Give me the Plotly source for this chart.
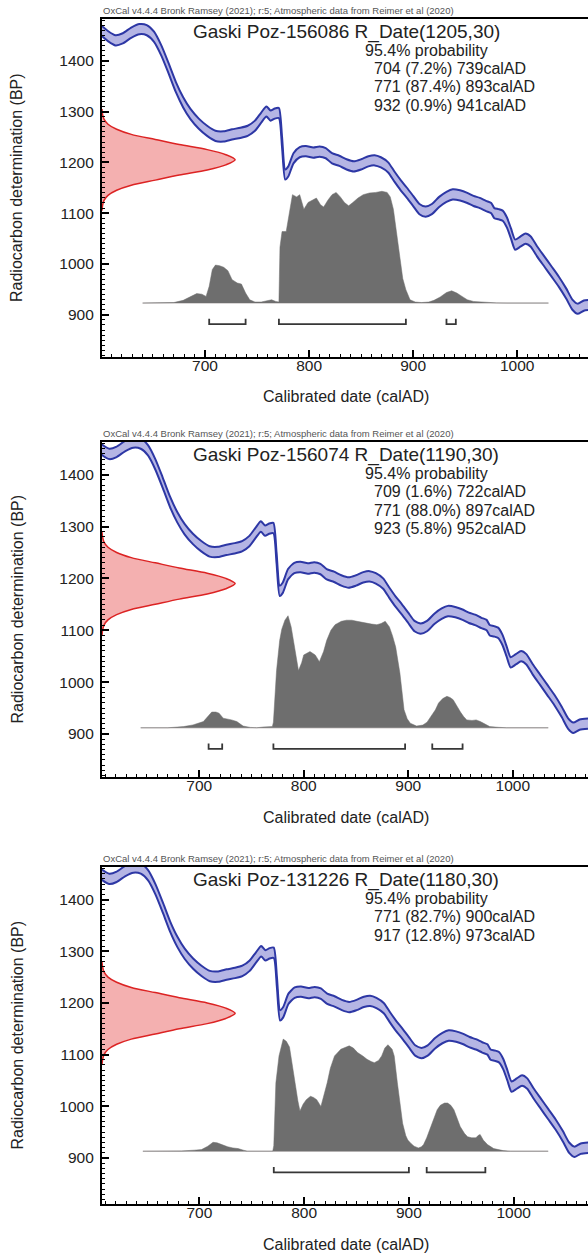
import plotly.graph_objects as go

# calibration curve as drawn (calAD, radiocarbon age BP), band drawn +/- curve_err
curve_year = [600, 607, 614, 621, 629, 637, 644, 651, 658, 665, 672, 679, 686, 694, 702, 710, 718, 726, 734, 741,
              748, 754, 759, 763, 767, 771, 774, 777, 780, 785, 791, 797, 804, 810, 816, 822, 829, 836, 843, 850,
              857, 863, 869, 876, 882, 888, 894, 900, 906, 912, 918, 925, 932, 938, 945, 952, 958, 964, 970, 975,
              978, 982, 986, 990, 994, 998, 1003, 1008, 1013, 1019, 1026, 1033, 1040, 1047, 1053, 1058, 1064, 1072]
curve_bp = [1460, 1448, 1440, 1444, 1455, 1462, 1460, 1447, 1420, 1385, 1348, 1318, 1295, 1276, 1262, 1252, 1251, 1255, 1258, 1262,
            1272, 1288, 1300, 1292, 1296, 1297, 1240, 1176, 1182, 1208, 1220, 1222, 1219, 1221, 1218, 1208, 1203, 1196, 1192, 1196,
            1202, 1204, 1200, 1190, 1172, 1155, 1140, 1124, 1108, 1103, 1108, 1122, 1132, 1137, 1135, 1130, 1124, 1120, 1114, 1110,
            1100, 1098, 1095, 1082, 1060, 1038, 1044, 1050, 1044, 1025, 1005, 985, 965, 942, 920, 912, 918, 920]
curve_err = 10

# measured radiocarbon date, relative density against offset from the mean (BP)
dens_offset = [-100, -90, -80, -70, -60, -50, -40, -30, -20, -10, 0, 10, 20, 30, 40, 50, 60, 70, 80, 90, 100]
dens_value = [0, 0.004, 0.015, 0.045, 0.11, 0.22, 0.40, 0.58, 0.79, 0.93, 1.0, 0.93, 0.79, 0.58, 0.40, 0.22, 0.11, 0.045, 0.015, 0.004, 0]

names = ["Gaski Poz-156086", "Gaski Poz-156074", "Gaski Poz-131226"]
date_mean = [1205, 1190, 1180]
date_sd = [30, 30, 30]

range_from = [[704, 771, 932], [709, 771, 923], [771, 917]]
range_to = [[739, 893, 941], [722, 897, 952], [900, 973]]
range_pct = [[7.2, 87.4, 0.9], [1.6, 88.0, 5.8], [82.7, 12.8]]

post1_year = [640, 660, 670, 679, 686, 692, 697, 701, 704, 707, 710, 714, 718, 722, 726, 731, 735, 739, 743, 748,
              754, 760, 764, 768, 771, 772, 774, 778, 781, 784, 788, 791, 795, 799, 803, 807, 811, 814, 818, 822,
              826, 830, 834, 838, 842, 847, 852, 858, 864, 870, 875, 878, 881, 884, 887, 890, 893, 897, 902, 908,
              915, 920, 926, 932, 937, 942, 947, 952, 958, 965, 972, 980, 990, 1030]
post1_prob = [0, 0, 0.005, 0.025, 0.06, 0.085, 0.08, 0.06, 0.15, 0.30, 0.34, 0.335, 0.32, 0.29, 0.21, 0.18, 0.17, 0.09, 0.03, 0.01,
              0.01, 0.025, 0.03, 0.015, 0.01, 0.5, 0.64, 0.64, 0.8, 0.97, 0.95, 0.97, 0.84, 0.9, 0.92, 0.94, 0.88, 0.86, 0.92, 0.97,
              0.99, 0.95, 0.90, 0.87, 0.90, 0.94, 0.97, 0.985, 0.99, 1.0, 0.99, 0.95, 0.84, 0.62, 0.40, 0.22, 0.12, 0.03, 0.01, 0.005,
              0.01, 0.025, 0.055, 0.095, 0.11, 0.09, 0.06, 0.03, 0.015, 0.01, 0.006, 0.002, 0, 0]

post2_year = [644, 670, 685, 694, 704, 709, 712, 716, 719, 723, 727, 731, 736, 742, 749, 755, 761, 766, 770, 771,
              774, 777, 779, 782, 785, 788, 791, 795, 798, 800, 806, 811, 815, 819, 822, 826, 830, 836, 841, 846,
              851, 856, 860, 865, 870, 874, 878, 882, 885, 888, 892, 896, 899, 902, 908, 914, 918, 922, 926, 929,
              933, 937, 940, 943, 946, 950, 953, 956, 961, 965, 969, 972, 978, 986, 994, 1034]
post2_prob = [0, 0, 0.01, 0.025, 0.055, 0.11, 0.14, 0.14, 0.13, 0.085, 0.08, 0.07, 0.055, 0.015, 0.003, 0, 0.006, 0.01, 0.01, 0.05,
              0.51, 0.78, 0.88, 0.96, 1.0, 0.9, 0.72, 0.51, 0.58, 0.65, 0.68, 0.65, 0.59, 0.68, 0.78, 0.87, 0.92, 0.95, 0.96, 0.96,
              0.95, 0.94, 0.93, 0.925, 0.92, 0.93, 0.95, 0.9, 0.82, 0.72, 0.49, 0.16, 0.08, 0.04, 0.015, 0.024, 0.05, 0.1, 0.16, 0.22,
              0.26, 0.28, 0.27, 0.25, 0.2, 0.14, 0.1, 0.07, 0.065, 0.07, 0.055, 0.04, 0.01, 0.004, 0, 0]

post3_year = [646, 672, 683, 695, 702, 708, 713, 717, 722, 727, 732, 737, 742, 746, 770, 771, 773, 776, 780, 783,
              786, 788, 791, 794, 796, 799, 802, 806, 809, 812, 816, 819, 822, 825, 829, 835, 840, 843, 847, 851,
              856, 860, 864, 867, 871, 874, 877, 880, 884, 886, 889, 891, 894, 897, 899, 902, 905, 909, 912, 914,
              917, 921, 924, 927, 930, 934, 937, 940, 943, 946, 949, 953, 956, 960, 964, 966, 968, 971, 975, 981,
              990, 997, 1033]
post3_prob = [0, 0, 0.003, 0.01, 0.015, 0.045, 0.08, 0.075, 0.055, 0.04, 0.03, 0.024, 0.01, 0, 0, 0.05, 0.61, 0.85, 1.0, 0.98,
              0.93, 0.8, 0.6, 0.45, 0.36, 0.42, 0.46, 0.49, 0.48, 0.46, 0.40, 0.5, 0.61, 0.74, 0.85, 0.91, 0.93, 0.94, 0.92, 0.88,
              0.85, 0.82, 0.80, 0.79, 0.81, 0.85, 0.92, 0.95, 0.91, 0.85, 0.61, 0.45, 0.25, 0.14, 0.1, 0.07, 0.045, 0.03, 0.04, 0.06,
              0.12, 0.22, 0.3, 0.37, 0.41, 0.43, 0.43, 0.41, 0.37, 0.3, 0.22, 0.16, 0.13, 0.12, 0.12, 0.14, 0.15, 0.1, 0.06, 0.024,
              0.006, 0, 0]

post_year = [post1_year, post2_year, post3_year]
post_prob = [post1_prob, post2_prob, post3_prob]

HEADER = "OxCal v4.4.4 Bronk Ramsey (2021); r:5; Atmospheric data from Reimer et al (2020)"

# layout of the three panels in pixels of the 588x1256 page
W, H = 588, 1256
X_LEFT = 102
panels = [
    dict(top=19, bottom=357, xr=[601, 1068], yr=[817, 1482], base=923, hgt=220),
    dict(top=442, bottom=777, xr=[607, 1072], yr=[817, 1463], base=912, hgt=216),
    dict(top=867, bottom=1204, xr=[607, 1071], yr=[811, 1463], base=913, hgt=217),
]
RED_PEAK_FRAC = 0.274
FONT = "Liberation Sans, Arial, sans-serif"
TXT = "#222222"


def px(x):
    return x / W


def py(y):
    return 1 - y / H


fig = go.Figure()
annotations = []
layout_axes = {}

for i, p in enumerate(panels):
    n = i + 1
    xa, ya = f"x{n}", f"y{n}"
    xd, yp = f"x{n + 3}", f"y{n + 3}"
    dom_y = [py(p["bottom"]), py(p["top"])]

    tick_common = dict(ticks="inside", ticklen=7, tickwidth=1.5, tickcolor="black",
                       showline=True, linecolor="black", linewidth=2.2,
                       showgrid=False, zeroline=False,
                       tickfont=dict(family=FONT, size=15.5, color=TXT),
                       minor=dict(ticks="inside", ticklen=3, tickwidth=1, tickcolor="black",
                                  dtick=10, showgrid=False))
    layout_axes[f"xaxis{n}"] = dict(domain=[px(X_LEFT), 1], range=p["xr"], anchor=ya,
                                    dtick=100, tick0=0, mirror=True, ticklabelstandoff=-7, **tick_common)
    layout_axes[f"yaxis{n}"] = dict(domain=dom_y, range=p["yr"], anchor=xa,
                                    dtick=100, tick0=0, mirror=False, ticklabelstandoff=3, **tick_common)
    layout_axes[f"xaxis{n + 3}"] = dict(overlaying=xa, anchor=ya, range=[0, 1 / RED_PEAK_FRAC], visible=False)
    layout_axes[f"yaxis{n + 3}"] = dict(overlaying=ya, anchor=xa, visible=False,
                                        range=[(p["yr"][0] - p["base"]) / p["hgt"],
                                               (p["yr"][1] - p["base"]) / p["hgt"]])

    # calibration curve band
    lo = [b - curve_err for b in curve_bp]
    hi = [b + curve_err for b in curve_bp]
    fig.add_trace(go.Scatter(x=curve_year, y=lo, xaxis=xa, yaxis=ya, mode="lines",
                             line=dict(color="rgb(45,55,165)", width=2, shape="spline", smoothing=0.6),
                             hoverinfo="skip"))
    fig.add_trace(go.Scatter(x=curve_year, y=hi, xaxis=xa, yaxis=ya, mode="lines", fill="tonexty",
                             fillcolor="rgba(120,120,205,0.55)",
                             line=dict(color="rgb(45,55,165)", width=2, shape="spline", smoothing=0.6),
                             hoverinfo="skip"))

    # posterior (calibrated) distribution
    yrs, prob = post_year[i], post_prob[i]
    fig.add_trace(go.Scatter(x=[yrs[0], yrs[-1]], y=[0, 0], xaxis=xa, yaxis=yp, mode="lines",
                             line=dict(color="rgb(205,200,200)", width=1.5), hoverinfo="skip"))
    fig.add_trace(go.Scatter(x=yrs, y=prob, xaxis=xa, yaxis=yp, mode="lines", fill="tozeroy",
                             fillcolor="rgb(110,110,110)", line=dict(color="rgb(110,110,110)", width=0.5),
                             hoverinfo="skip"))

    # 95.4% range brackets
    for a, b in zip(range_from[i], range_to[i]):
        fig.add_trace(go.Scatter(x=[a, a, b, b], y=[-0.14, -0.188, -0.188, -0.14], xaxis=xa, yaxis=yp,
                                 mode="lines", line=dict(color="rgb(55,55,55)", width=1.8),
                                 hoverinfo="skip"))

    # radiocarbon measurement on the y axis
    fig.add_trace(go.Scatter(x=dens_value, y=[date_mean[i] + o for o in dens_offset], xaxis=xd, yaxis=ya,
                             mode="lines", fill="tozerox", fillcolor="rgba(240,150,150,0.75)",
                             line=dict(color="rgb(220,35,35)", width=1.5, shape="spline", smoothing=0.8),
                             hoverinfo="skip"))

    top = p["top"]
    annotations.append(dict(text=HEADER, x=px(101), y=py(top - 1), xanchor="left", yanchor="bottom",
                            font=dict(family=FONT, size=9.5, color="#555555")))
    annotations.append(dict(text=f"{names[i]} R_Date({date_mean[i]},{date_sd[i]})", x=px(346), y=py(top + 13),
                            xanchor="center", yanchor="middle", font=dict(family=FONT, size=19, color=TXT)))
    annotations.append(dict(text="95.4% probability", x=px(363), y=py(top + 31), xanchor="left", yanchor="middle",
                            font=dict(family=FONT, size=16, color=TXT)))
    for k, (a, b, pc) in enumerate(zip(range_from[i], range_to[i], range_pct[i])):
        annotations.append(dict(text=f"{a} ({pc:.1f}%) {b}calAD", x=px(372), y=py(top + 49.5 + 18.5 * k),
                                xanchor="left", yanchor="middle", font=dict(family=FONT, size=16, color=TXT)))
    annotations.append(dict(text="Calibrated date (calAD)", x=px(346), y=py(p["bottom"] + 40),
                            xanchor="center", yanchor="middle", font=dict(family=FONT, size=16, color=TXT)))
    annotations.append(dict(text="Radiocarbon determination (BP)", x=px(17), y=py((top + p["bottom"]) / 2),
                            xanchor="center", yanchor="middle", textangle=-90,
                            font=dict(family=FONT, size=16, color=TXT)))

for a in annotations:
    a.update(xref="paper", yref="paper", showarrow=False)

fig.update_layout(
    width=W, height=H,
    margin=dict(l=0, r=0, t=0, b=0),
    paper_bgcolor="white", plot_bgcolor="white",
    showlegend=False,
    annotations=annotations,
    **layout_axes
)

# the page's default body margin would shift the figure by 8px
fig.write_html("out.html", config={"displayModeBar": False},
               post_script="document.body.style.margin='0px';")
